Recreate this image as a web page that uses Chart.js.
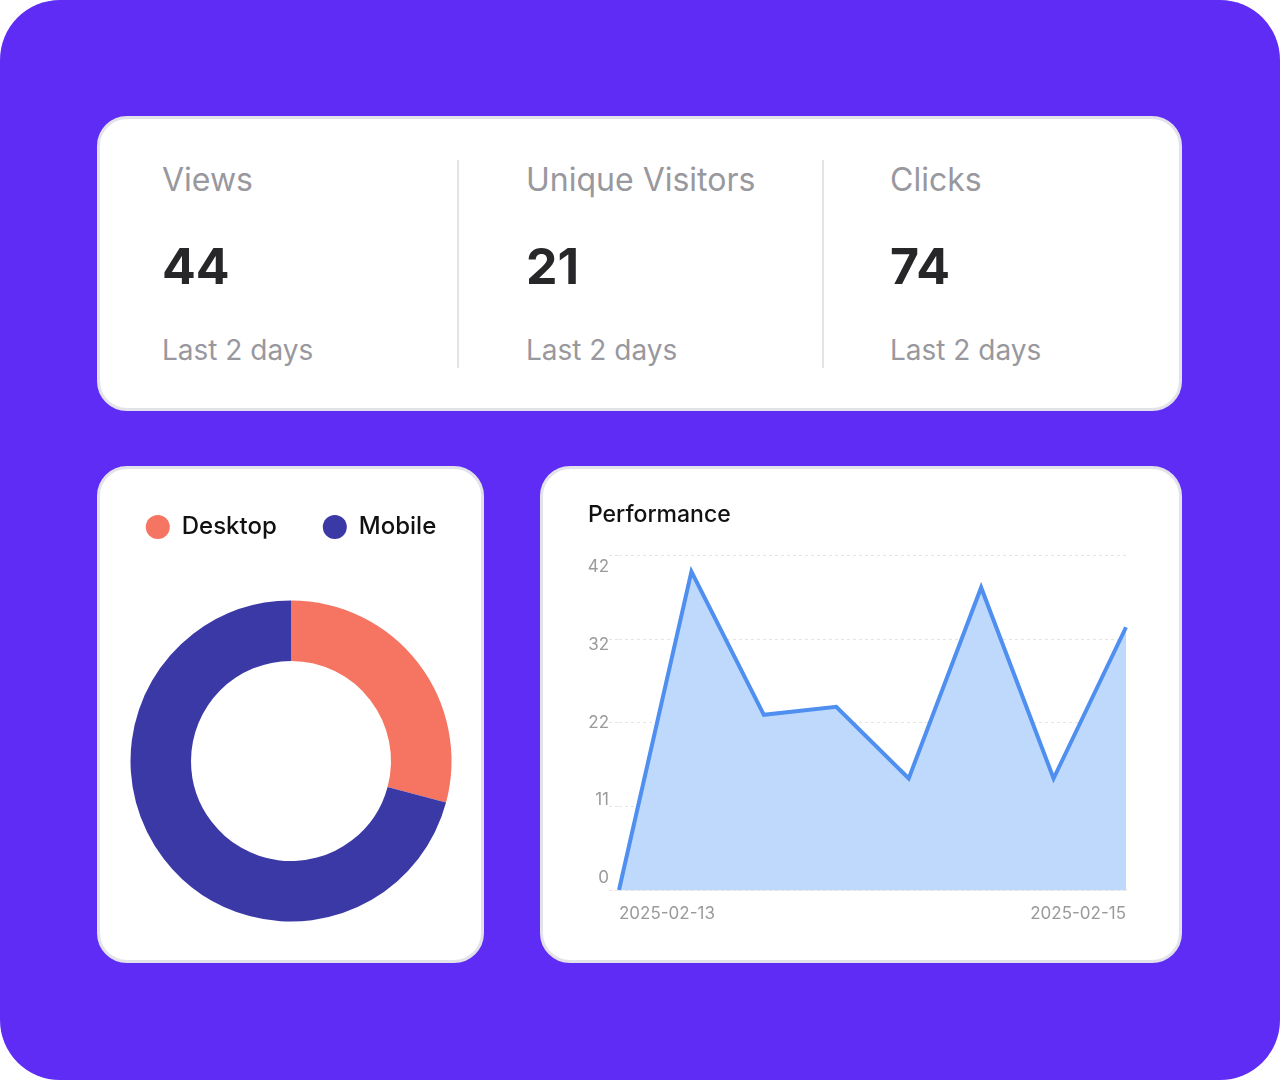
<!DOCTYPE html>
<html>
<head>
<meta charset="utf-8">
<script src="https://cdn.jsdelivr.net/npm/chart.js@4/dist/chart.umd.min.js"></script>
<style>
  html, body { margin: 0; padding: 0; background: #ffffff; }
  body { width: 1280px; height: 1080px; position: relative; font-family: Inter, 'Noto Sans', sans-serif; }
  .frame { position: absolute; left: 0; top: 0; width: 1280px; height: 1080px; border-radius: 60px; background: #5f2cf5; }
  .card { position: absolute; box-sizing: border-box; background: #fff; border: 3px solid #e2e2ea; border-radius: 30px; }
  .stat { position: absolute; }
  .stat .label { position: absolute; left: 0; top: 0; font-size: 32px; line-height: 32px; color: #98989e; white-space: nowrap; }
  .stat .value { position: absolute; left: 0; top: 77px; font-size: 50px; line-height: 50px; font-weight: 700; color: #27272a; }
  .stat .note { position: absolute; left: 0; top: 172px; font-size: 28px; line-height: 28px; color: #98989e; white-space: nowrap; }
  .divider { position: absolute; top: 160px; width: 2px; height: 208px; background: #e4e4e8; }
  canvas { position: absolute; }
</style>
</head>
<body>
<div class="frame"></div>
<div class="card" style="left:97px; top:116px; width:1085px; height:295px;"></div>
<div class="divider" style="left:457px;"></div>
<div class="divider" style="left:822px;"></div>
<div class="card" style="left:97px; top:466px; width:387px; height:497px;"></div>
<div class="card" style="left:540px; top:466px; width:642px; height:497px;"></div>
<div id="stats"></div>
<canvas id="deviceChart" style="left:91px; top:469px; width:400px; height:504px;"></canvas>
<canvas id="perfChart" style="left:588px; top:490px; width:572px; height:450px;"></canvas>
<script>
// số liệu tổng quan
let statLabels = ['Views', 'Unique Visitors', 'Clicks'];
let statValues = [44, 21, 74];
let statNote = 'Last 2 days';

// thiết bị
let deviceLabels = ['Desktop', 'Mobile'];
let deviceValues = [7, 17];

// biểu đồ hiệu suất
let perfLabels = ['2025-02-13', '', '', '', '', '', '', '2025-02-15'];
let perfValues = [0, 40, 22, 23, 14, 38, 14, 33];
let yTickLabels = ['0', '11', '22', '32', '42'];

Chart.defaults.font.family = "Inter, 'Noto Sans', sans-serif";

// vẽ các ô số liệu
let statsBox = document.getElementById('stats');
let statX = [162, 526, 890];
statLabels.forEach(function(name, i) {
    let div = document.createElement('div');
    div.className = 'stat';
    div.style.left = statX[i] + 'px';
    div.style.top = '164px';
    div.innerHTML = '<div class="label">' + name + '</div>' +
        '<div class="value">' + statValues[i] + '</div>' +
        '<div class="note">' + statNote + '</div>';
    statsBox.appendChild(div);
});

// biểu đồ tròn
new Chart(document.getElementById('deviceChart'), {
    type: 'doughnut',
    data: {
        labels: deviceLabels,
        datasets: [{
            data: deviceValues,
            backgroundColor: ['#f57462', '#3b39a6'],
            borderWidth: 0,
            radius: 160.5
        }]
    },
    options: {
        responsive: false,
        animation: false,
        cutout: '62.3%',
        plugins: {
            legend: {
                position: 'top',
                labels: {
                    usePointStyle: true,
                    pointStyle: 'circle',
                    pointStyleWidth: 24,
                    boxHeight: 17,
                    padding: 46,
                    color: '#111111',
                    font: { size: 24, weight: 500 }
                }
            },
            tooltip: { enabled: false }
        }
    }
});

// biểu đồ đường
new Chart(document.getElementById('perfChart'), {
    type: 'line',
    data: {
        labels: perfLabels,
        datasets: [{
            data: perfValues,
            borderColor: '#4f8ff0',
            backgroundColor: '#bfd9fd',
            borderWidth: 4,
            fill: true,
            tension: 0,
            pointRadius: 0
        }]
    },
    options: {
        responsive: false,
        animation: false,
        layout: { padding: { right: 34 } },
        plugins: {
            legend: { display: false },
            tooltip: { enabled: false },
            title: {
                display: true,
                text: 'Performance',
                align: 'start',
                color: '#111111',
                font: { size: 23, weight: 500 },
                padding: { top: 11, bottom: 27 }
            }
        },
        scales: {
            x: {
                grid: { display: false },
                border: { display: true, color: '#e6e6ea', width: 1.5 },
                ticks: {
                    autoSkip: false,
                    maxRotation: 0,
                    align: 'inner',
                    padding: 6,
                    color: '#9a9a9a',
                    font: { size: 17 }
                },
                afterFit: function(scale) { scale.height = 50; }
            },
            // trục dữ liệu: chỉ vẽ đường lưới
            y: {
                min: 0,
                max: 42,
                weight: 0,
                border: { display: false, dash: [3, 3] },
                grid: {
                    color: '#e3e3e8',
                    lineWidth: 1,
                    drawTicks: true,
                    tickLength: 10,
                    tickColor: '#e3e3e8',
                    tickBorderDash: [3, 3]
                },
                ticks: { stepSize: 10.5, display: false },
                afterFit: function(scale) { scale.width = 10; }
            },
            // trục nhãn: nhãn lệch so với lưới như ảnh gốc
            yLabels: {
                type: 'linear',
                position: 'left',
                weight: 1,
                min: -0.154,
                max: 4.147,
                border: { display: false },
                grid: { display: false, drawTicks: false },
                afterBuildTicks: function(scale) {
                    scale.ticks = yTickLabels.map(function(t, i) { return { value: i }; });
                },
                ticks: {
                    padding: 0,
                    color: '#9a9a9a',
                    font: { size: 17 },
                    callback: function(value, index) { return yTickLabels[index]; }
                },
                afterFit: function(scale) { scale.width = 21; }
            }
        }
    }
});
</script>
</body>
</html>
